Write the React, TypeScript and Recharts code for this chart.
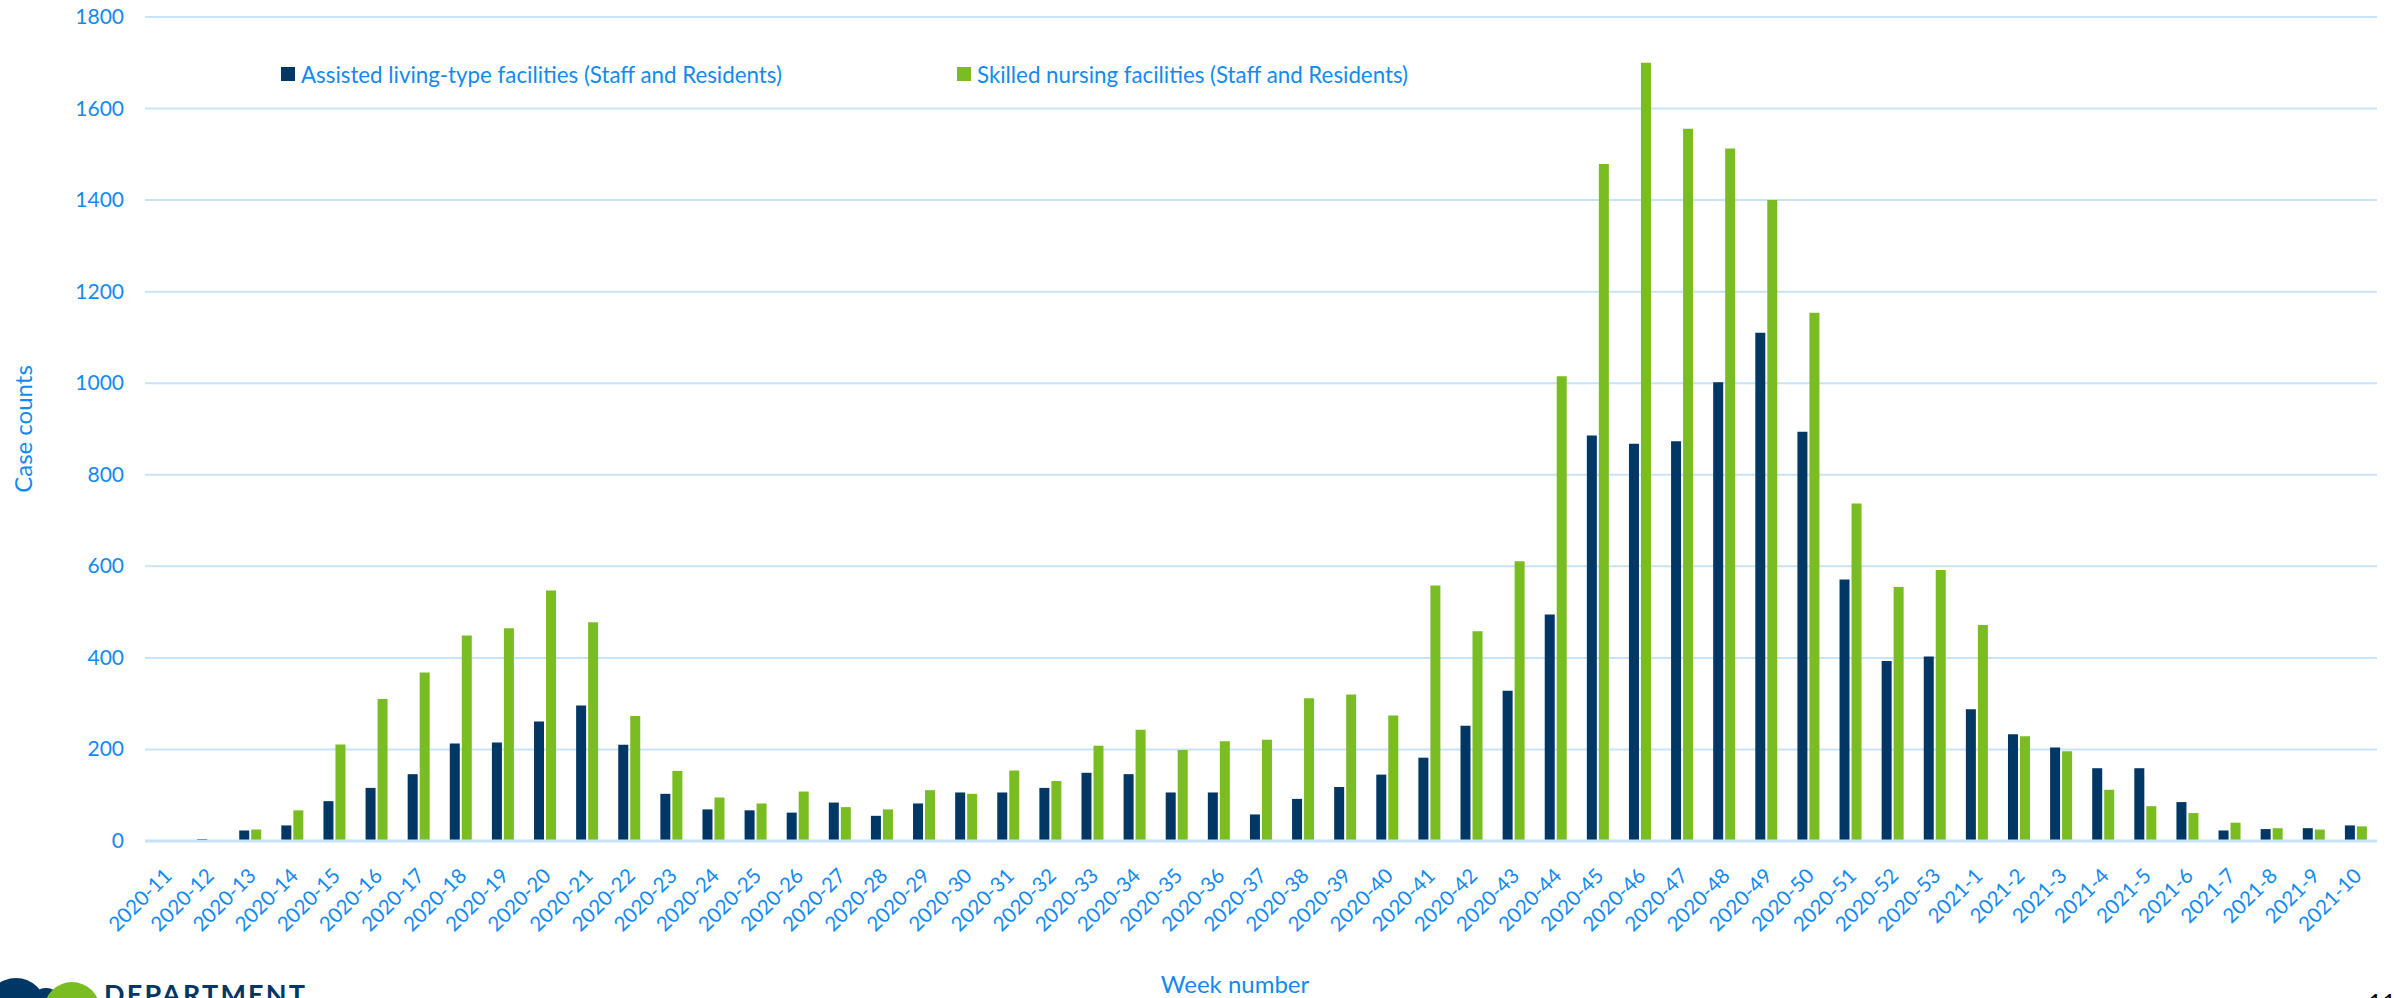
import { BarChart, Bar, XAxis, YAxis, CartesianGrid, Legend } from 'recharts';

const weeks = [
  '2020-11', '2020-12', '2020-13', '2020-14', '2020-15', '2020-16', '2020-17', '2020-18', '2020-19', '2020-20',
  '2020-21', '2020-22', '2020-23', '2020-24', '2020-25', '2020-26', '2020-27', '2020-28', '2020-29', '2020-30',
  '2020-31', '2020-32', '2020-33', '2020-34', '2020-35', '2020-36', '2020-37', '2020-38', '2020-39', '2020-40',
  '2020-41', '2020-42', '2020-43', '2020-44', '2020-45', '2020-46', '2020-47', '2020-48', '2020-49', '2020-50',
  '2020-51', '2020-52', '2020-53',
  '2021-1', '2021-2', '2021-3', '2021-4', '2021-5', '2021-6', '2021-7', '2021-8', '2021-9', '2021-10',
];

const assistedLiving = [
  0, 4, 23, 34, 87, 116, 146, 213, 215, 261,
  296, 210, 103, 69, 67, 62, 84, 55, 82, 106,
  106, 116, 149, 146, 106, 106, 58, 92, 118, 145,
  182, 252, 328, 495, 886, 868, 873, 1002, 1110, 894,
  571, 393, 403,
  288, 233, 204, 159, 159, 85, 23, 26, 28, 34,
];

const skilledNursing = [
  0, 1, 25, 67, 211, 310, 368, 449, 465, 547,
  478, 273, 153, 95, 82, 108, 74, 69, 111, 103,
  154, 131, 208, 243, 199, 218, 221, 312, 320, 274,
  558, 458, 611, 1015, 1479, 1700, 1556, 1513, 1400, 1154,
  737, 555, 592,
  472, 229, 196, 112, 76, 61, 40, 28, 25, 32,
];

const yTicks = [0, 200, 400, 600, 800, 1000, 1200, 1400, 1600, 1800];

const seriesNames = [
  'Assisted living-type facilities (Staff and Residents)',
  'Skilled nursing facilities (Staff and Residents)',
];

const NAVY = '#003764';
const GREEN = '#79BD22';
const BLUE = '#128AF2';
const GRID = '#C6E3F9';
const FONT = 'Lato, "Noto Sans", sans-serif';

const data = weeks.map((w, i) => ({ week: w, assisted: assistedLiving[i], skilled: skilledNursing[i] }));

function WeekTick({ x, y, payload }: any) {
  return (
    <g transform={`translate(${x + 7},${y + 36})`}>
      <text textAnchor="end" transform="rotate(-45)" fill={BLUE} fontSize={20.5} fontFamily={FONT}>
        {payload.value}
      </text>
    </g>
  );
}

// right edge of the count labels sits 21px left of the plot edge (axis is 145 wide)
function CountTick({ y, payload }: any) {
  return (
    <text x={124} y={y} dy={7} textAnchor="end" fill={BLUE} fontSize={21} fontFamily={FONT}>
      {payload.value}
    </text>
  );
}

function LegendBox({ payload }: any) {
  const lefts = [281, 957];
  return (
    <div style={{ position: 'relative', height: 26 }}>
      {(payload || []).map((p: any, i: number) => (
        <div
          key={p.value}
          style={{ position: 'absolute', left: lefts[i], top: 0, display: 'flex', alignItems: 'center', height: 26 }}
        >
          <span style={{ width: 14, height: 14, background: p.color, marginRight: 6, display: 'inline-block' }} />
          <span style={{ color: BLUE, fontSize: 22.3, fontFamily: FONT, whiteSpace: 'nowrap' }}>{p.value}</span>
        </div>
      ))}
    </div>
  );
}

export default function App() {
  return (
    <div style={{ position: 'absolute', left: 0, top: 0, width: 2394, height: 998, background: '#fff', overflow: 'hidden' }}>
      <BarChart
        width={2394}
        height={998}
        data={data}
        margin={{ top: 17, right: 17, left: 0, bottom: 0 }}
        barSize={10}
        barGap={2}
      >
        <CartesianGrid vertical={false} stroke={GRID} strokeWidth={2} />
        <XAxis
          dataKey="week"
          interval={0}
          height={157}
          tickLine={false}
          tickSize={0}
          tickMargin={0}
          axisLine={{ stroke: GRID, strokeWidth: 3 }}
          tick={<WeekTick />}
          label={({ viewBox }: any) => (
            <text
              x={viewBox.x + viewBox.width / 2 - 26}
              y={993}
              textAnchor="middle"
              fill={BLUE}
              fontSize={24}
              fontFamily={FONT}
            >
              Week number
            </text>
          )}
        />
        <YAxis
          width={145}
          domain={[0, 1800]}
          ticks={yTicks}
          tickLine={false}
          axisLine={false}
          tick={<CountTick />}
          label={({ viewBox }: any) => {
            const cy = viewBox.y + viewBox.height / 2;
            return (
              <text
                x={32}
                y={cy}
                transform={`rotate(-90, 32, ${cy})`}
                textAnchor="middle"
                fill={BLUE}
                fontSize={24}
                fontFamily={FONT}
              >
                Case counts
              </text>
            );
          }}
        />
        <Legend
          layout="horizontal"
          verticalAlign="middle"
          align="center"
          content={<LegendBox />}
          wrapperStyle={{ top: 61, left: 0, width: 2394 }}
        />
        <Bar dataKey="assisted" name={seriesNames[0]} fill={NAVY} isAnimationActive={false} />
        <Bar dataKey="skilled" name={seriesNames[1]} fill={GREEN} isAnimationActive={false} />
      </BarChart>

      <svg width={400} height={40} style={{ position: 'absolute', left: 0, top: 958 }}>
        <circle cx={16} cy={50} r={30} fill={NAVY} />
        <circle cx={46} cy={46} r={16} fill={NAVY} />
        <circle cx={72} cy={52} r={28} fill={GREEN} />
        <circle cx={76} cy={50} r={9} fill="#fff" />
        <text x={104} y={46} fill={NAVY} fontSize={27} fontWeight={700} letterSpacing={2.2} fontFamily={FONT}>
          DEPARTMENT
        </text>
      </svg>
      <div
        style={{ position: 'absolute', left: 2368, top: 990, fontSize: 24, fontFamily: FONT, color: '#000', lineHeight: '24px' }}
      >
        11
      </div>
    </div>
  );
}
